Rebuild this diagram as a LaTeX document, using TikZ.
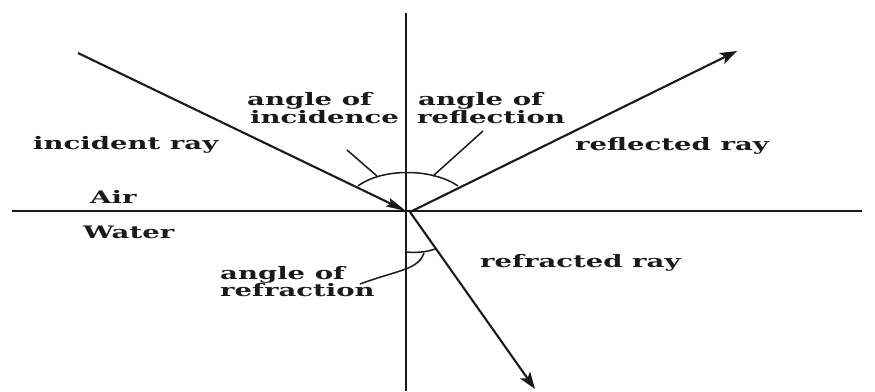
\documentclass[tikz,border=0pt]{standalone}
\usepackage{fontspec}
\newfontfamily\lblfont{DejaVu Serif}[FakeStretch=1.6]
\usetikzlibrary{arrows.meta}
\definecolor{ink}{HTML}{1A1A1A}
\tikzset{
  lbl/.style={font=\lblfont\bfseries\fontsize{17.2}{17}\selectfont, text=ink, inner sep=0pt, anchor=base west},
  axis/.style={draw=ink, line width=1.6pt},
  ray/.style={draw=ink, line width=2.1pt},
  thin/.style={draw=ink, line width=1.5pt},
  headbig/.style={-{Stealth[length=17pt,width=12pt,inset=4pt]}},
}
\begin{document}
\begin{tikzpicture}[x=1pt,y=-1pt]
\useasboundingbox[fill=white] (0,0) rectangle (875,391);
% key points
\coordinate (O) at (406,211);
\coordinate (hl) at (12,211);
\coordinate (hr) at (862,211);
\coordinate (vt) at (406,13);
\coordinate (vb) at (406,391);
\coordinate (inc) at (78,53);
\coordinate (refl) at (737,51);
\coordinate (Or) at (410,212);
\coordinate (refr) at (535,389);
% axes
\draw[axis] (hl) -- (hr);
\draw[axis] (vt) -- (vb);
% rays
\draw[ray,-{Stealth[length=20pt,width=9pt,inset=3pt]}] (inc) -- (O);
\draw[ray,headbig] (Or) -- (refl);
\draw[ray,headbig] (Or) -- (refr);
% upper arc
\coordinate (a1) at (358,186);
\coordinate (a2) at (458,186);
\draw[thin] (a1) .. controls (382,168) and (432,168) .. (a2);
% lower arc
\coordinate (b1) at (406,252);
\coordinate (b2) at (435,249);
\draw[thin] (b1) .. controls (416,253) and (427,252) .. (b2);
% leaders
\coordinate (li1) at (347,150);
\coordinate (li2) at (377,176);
\draw[thin] (li1) -- (li2);
\coordinate (lr1) at (483,131);
\coordinate (lr2) at (433,176);
\draw[thin] (lr1) -- (lr2);
\coordinate (lf1) at (360,284);
\coordinate (lf2) at (424,253);
\draw[thin] (lf1) .. controls (398,270) and (418,270) .. (lf2);
% labels
\node[lbl] (tinc1) at (247,105) {angle of};
\node[lbl] (tinc2) at (250,123) {incidence};
\node[lbl] (trfl1) at (418,105) {angle of};
\node[lbl] (trfl2) at (417,123) {reflection};
\node[lbl] (tir) at (33,149) {incident ray};
\node[lbl] (trr) at (575,150) {reflected ray};
\node[lbl] (tair) at (90,203) {Air};
\node[lbl] (twat) at (83,238) {Water};
\node[lbl] (tfr) at (480,267) {refracted ray};
\node[lbl] (trfr1) at (220,279) {angle of};
\node[lbl] (trfr2) at (220,296) {refraction};
\end{tikzpicture}
\end{document}
